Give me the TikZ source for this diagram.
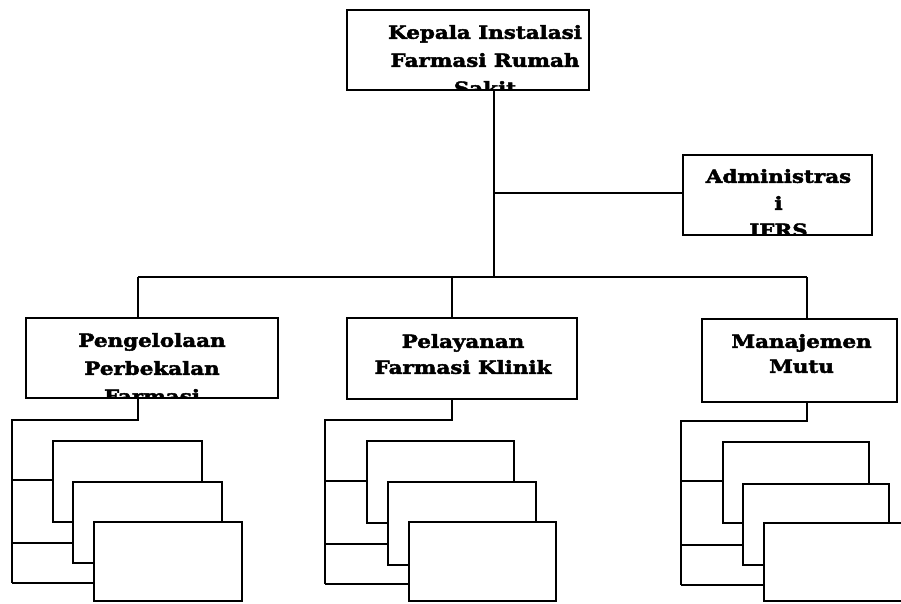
\documentclass[tikz,border=0pt]{standalone}
\usepackage{fontspec}
\setmainfont{DejaVu Serif}
\newfontfamily\boxfont{DejaVu Serif}[FakeStretch=1.19, FakeBold=2.5]
\begin{document}
\begin{tikzpicture}[x=1pt,y=-1pt,
  box/.style={draw=black, line width=2.2pt, fill=white, rectangle, inner sep=0pt},
  lbl/.style={font=\boxfont\bfseries\fontsize{18}{27}\selectfont, align=center, inner sep=0pt,
    minimum width=0pt, minimum height=0pt, anchor=north},
  wire/.style={draw=black, line width=2.2pt},
  sub/.style={draw=black, line width=2.2pt, fill=white}]
\useasboundingbox (0,0) rectangle (901,603);
\clip (0,0) rectangle (901,603);
% ---------- top level ----------
\node[box, minimum width=242pt, minimum height=80pt,
  path picture={\node[lbl, font=\boxfont\bfseries\fontsize{18}{28}\selectfont] at ([xshift=17pt,yshift=-14pt]path picture bounding box.north) {Kepala Instalasi\\Farmasi Rumah\\Sakit};}]
  (top) at (468,50) {};
\node[box, minimum width=189pt, minimum height=80pt,
  path picture={\node[lbl] at ([xshift=1pt,yshift=-13pt]path picture bounding box.north) {Administras\\i\\IFRS};}]
  (adm) at (777.5,195) {};
\coordinate (jadm) at (494,193);
\coordinate (bus) at (494,277);
\draw[wire] (jadm |- top.south) -- (bus);
\draw[wire] (jadm) -- (jadm -| adm.west);
% ---------- second level ----------
\node[box, minimum width=252pt, minimum height=80pt,
  path picture={\node[lbl, font=\boxfont\bfseries\fontsize{18}{28}\selectfont] at ([yshift=-14pt]path picture bounding box.north) {Pengelolaan\\Perbekalan\\Farmasi};}]
  (pf) at (152,358) {};
\node[box, minimum width=230pt, minimum height=81pt,
  path picture={\node[lbl, font=\boxfont\bfseries\fontsize{18}{26}\selectfont] at ([xshift=1pt,yshift=-15pt]path picture bounding box.north) {Pelayanan\\Farmasi Klinik};}]
  (pk) at (462,358.5) {};
\node[box, minimum width=195pt, minimum height=83pt,
  path picture={\node[lbl, font=\boxfont\bfseries\fontsize{18}{25}\selectfont] at ([xshift=2pt,yshift=-14pt]path picture bounding box.north) {Manajemen\\Mutu};}]
  (mm) at (799.5,360.5) {};
\coordinate (c1) at (138,277);
\coordinate (c2) at (452,277);
\coordinate (c3) at (807,277);
\draw[wire] (c1) -- (c3);
\draw[wire] (c1) -- (c1 |- pf.north);
\draw[wire] (c2) -- (c2 |- pk.north);
\draw[wire] (c3) -- (c3 |- mm.north);
% ---------- third level: left stack ----------
\coordinate (l0) at (138,420);
\coordinate (l1) at (12,420);
\coordinate (l2) at (12,583);
\draw[wire] (l0 |- pf.south) -- (l0) -- (l1) -- (l2);
\node[sub, minimum width=149pt, minimum height=81pt] (la) at (127.5,481.5) {};
\draw[wire] (12,480) -- (12,480 -| la.west);
\node[sub, minimum width=149pt, minimum height=81pt] (lb) at (147.5,522.5) {};
\draw[wire] (12,543) -- (12,543 -| lb.west);
\node[sub, minimum width=148pt, minimum height=79pt] (lc) at (168,561.5) {};
\draw[wire] (l2) -- (l2 -| lc.west);
% ---------- third level: middle stack ----------
\coordinate (m0) at (452,420);
\coordinate (m1) at (325,420);
\coordinate (m2) at (325,584);
\draw[wire] (m0 |- pk.south) -- (m0) -- (m1) -- (m2);
\node[sub, minimum width=147pt, minimum height=82pt] (ma) at (440.5,482) {};
\draw[wire] (325,481) -- (325,481 -| ma.west);
\node[sub, minimum width=148pt, minimum height=83pt] (mb) at (462,523.5) {};
\draw[wire] (325,544) -- (325,544 -| mb.west);
\node[sub, minimum width=147pt, minimum height=79pt] (mc) at (482.5,561.5) {};
\draw[wire] (m2) -- (m2 -| mc.west);
% ---------- third level: right stack ----------
\coordinate (r0) at (807,421);
\coordinate (r1) at (681,421);
\coordinate (r2) at (681,585);
\draw[wire] (r0 |- mm.south) -- (r0) -- (r1) -- (r2);
\node[sub, minimum width=146pt, minimum height=81pt] (ra) at (796,482.5) {};
\draw[wire] (681,481) -- (681,481 -| ra.west);
\node[sub, minimum width=146pt, minimum height=81pt] (rb) at (816,524.5) {};
\draw[wire] (681,545) -- (681,545 -| rb.west);
\node[sub, minimum width=160pt, minimum height=78pt] (rc) at (844,562) {};
\draw[wire] (r2) -- (r2 -| rc.west);
\end{tikzpicture}
\end{document}
